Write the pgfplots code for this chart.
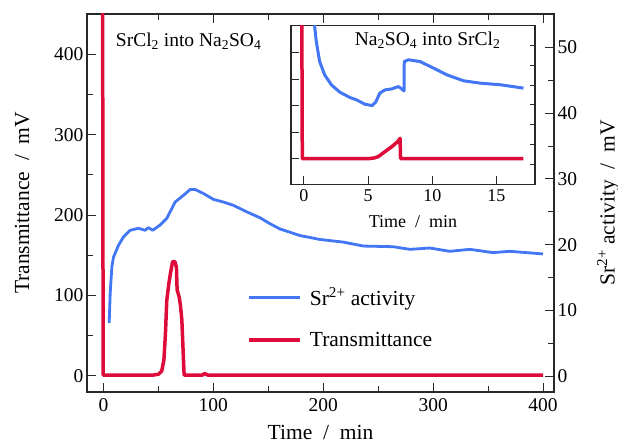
\documentclass[border=0pt]{standalone}
\usepackage{fontspec}
\setmainfont{Liberation Serif}
\usepackage{pgfplots}
\pgfplotsset{compat=1.18}
\definecolor{myblue}{RGB}{66,118,245}
\definecolor{myred}{RGB}{222,12,58}
\definecolor{axcol}{RGB}{40,40,40}
\newcommand\fontL{\fontsize{21.5bp}{24bp}\selectfont}
\newcommand\fontT{\fontsize{19.5bp}{22bp}\selectfont}
\newcommand\fontI{\fontsize{18bp}{21bp}\selectfont}

\pgfplotstableread{
x y
-0.8 470
-0.3 1
20 1
45 1
50 2
53 6
55 20
56.4 53
57.6 94
59.5 115
61 128
62.9 142
65 142
66.4 135
67 107
68.9 98
70 88
71.3 70
72.8 20
73.4 1
90 1
92 3
95 1
200 1
300 1
400 1
}\mainred

\pgfplotstableread{
x y
5.2 8.1
6.1 12.6
7.6 16.6
9.1 18.1
13.6 19.9
18.2 21.2
24.3 22.2
31.8 22.5
37.9 22.2
40.9 22.6
44.9 22.2
51.5 23.0
57.6 24.0
65.2 26.5
72.7 27.5
78.8 28.4
83.4 28.4
90.9 27.8
100 26.9
109 26.5
118.2 26.0
130.4 25.0
142.5 24.1
151.5 23.2
160.6 22.4
178.8 21.4
197 20.8
218.3 20.4
236.4 19.8
263.6 19.7
278.8 19.3
297 19.5
315.2 19.0
333.4 19.3
354.5 18.8
369.7 19.0
385 18.8
400 18.6
}\mainblue

\pgfplotstableread{
x y
-0.16 5.6
-0.12 0
5.0 0
5.5 0.03
5.8 0.08
6.3 0.26
6.84 0.45
7.2 0.6
7.36 0.67
7.49 0.77
7.53 0.02
7.6 0
17.1 0
}\insetred

\pgfplotstableread{
x y
0.78 8.4
0.84 7.96
0.97 7.2
1.23 6.19
1.62 5.52
2.14 5.02
2.79 4.65
3.58 4.38
4.1 4.26
4.75 4.04
5.32 3.97
5.59 4.14
5.92 4.6
6.31 4.76
6.84 4.81
7.36 4.93
7.62 4.81
7.8 4.71
7.8 5.27
7.82 6.19
8.14 6.28
9.05 6.19
10.1 5.86
11.14 5.52
12.44 5.22
13.75 5.1
15.3 5.02
17.1 4.85
}\insetblue

\begin{document}
\begin{tikzpicture}[x=1bp,y=1bp]
\useasboundingbox (0,0) rectangle (618,444);
\pgfplotsset{
  common/.style={
    scale only axis,
    anchor=south west,
    tick align=inside,
    /pgf/number format/assume math mode=true,
    axis line style={-, line width=1.1bp, draw=axcol},
    every tick/.style={line width=1bp, axcol},
    clip=true,
  },
  mainax/.style={
    common,
    width=467bp, height=378bp, at={(87bp,52bp)},
    xmin=-15, xmax=410,
    major tick length=9bp, minor tick length=6bp,
    tick label style={font=\fontT, text=black},
    label style={font=\fontL},
  },
  insax/.style={
    common,
    width=244bp, height=158.6bp, at={(291bp,259.7bp)},
    xmin=-1, xmax=18,
    tick label style={font=\fontI, text=black},
    label style={font=\fontI},
  },
}
% main left axis
\begin{axis}[mainax,
  ymin=-20, ymax=450,
  xtick={0,100,...,400}, minor xtick={50,150,...,350},
  ytick={0,100,...,400}, minor ytick={50,150,...,350},
  ytick pos=left, xtick pos=both,
  xticklabel style={yshift=-3bp},
  xlabel={Time\ \ /\ \ min}, ylabel={Transmittance\ \ /\ \ mV},
  xlabel style={at={(axis description cs:0.5,-0.106)}, anchor=center},
  ylabel style={at={(axis description cs:-0.139,0.5)}, anchor=center},
]
\addplot[myred, line width=3.5bp, line join=round] table {\mainred};
\node[anchor=west, font=\fontT, inner sep=0pt] at (rel axis cs:0.0615,0.927) {SrCl\textsubscript{2} into Na\textsubscript{2}SO\textsubscript{4}};
\end{axis}
% main right axis
\begin{axis}[mainax,
  ymin=-2.4, ymax=55.1,
  axis x line=none, axis y line*=right,
  ytick={0,10,...,50}, minor ytick={5,15,...,45},
  ylabel={Sr\textsuperscript{2+} activity\ \ /\ \ mV},
  ylabel style={at={(axis description cs:1.116,0.5)}, anchor=center},
  legend style={draw=none, fill=none, font=\fontL, at={(rel axis cs:0.343,0.281)}, anchor=north west, inner sep=0pt, row sep=21bp, column sep=6bp},
  legend cell align=left,
  legend image code/.code={\draw[#1] (0bp,0bp) -- (51bp,0bp);},
]
\addplot[myblue, line width=2.8bp, line join=round] table {\mainblue};
\addlegendentry{Sr\textsuperscript{2+} activity}
\addlegendimage{myred, line width=3.5bp}
\addlegendentry{Transmittance}
\end{axis}
% inset left axis
\begin{axis}[insax,
  ymin=-0.966, ymax=5.02,
  xtick={0,5,10,15}, ytick={0,1,2,3,4}, yticklabels={},
  xtick pos=bottom, ytick pos=left,
  major tick length=8bp,
  axis background/.style={fill=white},
  xticklabel style={yshift=-2bp},
  xlabel={Time\ \ /\ \ min},
  xlabel style={at={(axis description cs:0.5,-0.236)}, anchor=center},
]
\addplot[myred, line width=3.5bp, line join=round] table {\insetred};
\node[font=\fontT, inner sep=0pt] at (rel axis cs:0.56,0.907) {Na\textsubscript{2}SO\textsubscript{4} into SrCl\textsubscript{2}};
\end{axis}
% inset right axis
\begin{axis}[insax,
  ymin=0, ymax=8,
  axis x line=none, axis y line*=right,
  ytick={1,...,7}, yticklabels={},
  major tick length=5bp,
]
\addplot[myblue, line width=3bp, line join=round] table {\insetblue};
\end{axis}
\end{tikzpicture}
\end{document}
